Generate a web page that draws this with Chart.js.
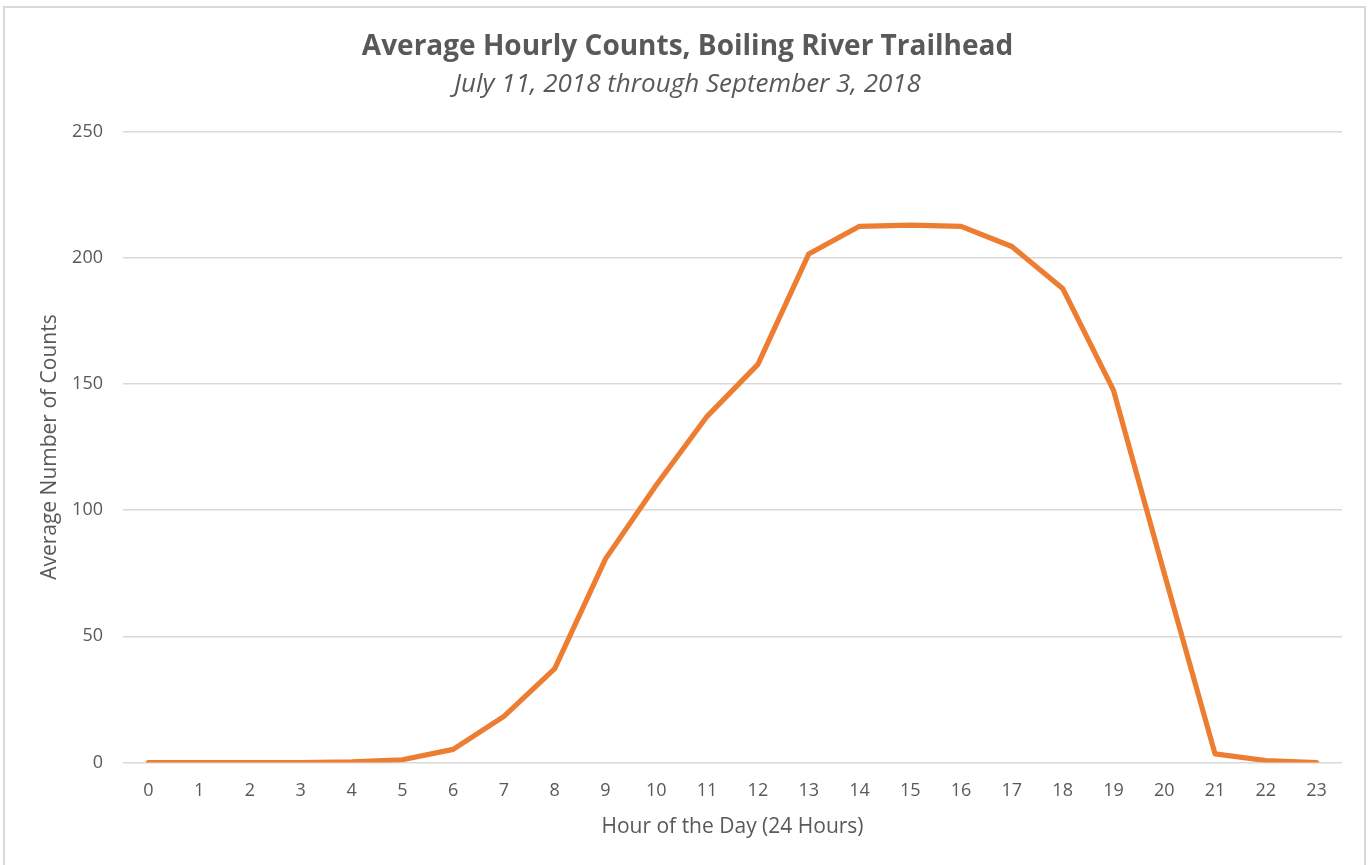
<!DOCTYPE html>
<html>
<head>
<meta charset="utf-8">
<script src="https://cdn.jsdelivr.net/npm/chart.js@4"></script>
<style>
    body { margin: 0; background: #fff; }
    #wrap { position: relative; width: 1371px; height: 865px; overflow: hidden; }
    #frame {
        position: absolute; left: 3px; top: 6px; width: 1363px; height: 900px;
        border: 2px solid #d9d9d9; box-sizing: border-box; pointer-events: none;
    }
    canvas { position: absolute; left: 0; top: 0; }
</style>
</head>
<body>
<div id="wrap">
    <div id="frame"></div>
    <canvas id="chart_hourly" width="1371" height="865"></canvas>
</div>
<script>
// hours of the day
var hour_list = ['0', '1', '2', '3', '4', '5', '6', '7', '8', '9', '10', '11',
    '12', '13', '14', '15', '16', '17', '18', '19', '20', '21', '22', '23']
// average counts per hour
var count_list = [0, 0, 0, 0, 0.3, 1.1, 5.2, 18.3, 37.2, 80.7, 110, 137.2,
    157.8, 201.5, 212.5, 213, 212.5, 204.5, 187.9, 147.6, 75, 3.4, 0.8, 0]
var y_ticks = [0, 50, 100, 150, 200, 250]

var text_color = '#595959'
var font_name = "'Open Sans', sans-serif"

Chart.defaults.font.family = font_name
Chart.defaults.color = text_color

var chart_hourly = new Chart(document.getElementById('chart_hourly'), {
    type: 'line',
    data: {
        labels: hour_list,
        datasets: [
            {
                label: 'Average Hourly Counts',
                data: count_list,
                borderColor: '#ED7D31',
                backgroundColor: '#ED7D31',
                borderWidth: 5.2,
                borderJoinStyle: 'round',
                borderCapStyle: 'round',
                pointRadius: 0,
                tension: 0
            }
        ]
    },
    options: {
        responsive: false,
        animation: false,
        layout: {
            padding: { left: 33, right: 29, top: 0, bottom: 21.5 }
        },
        plugins: {
            legend: { display: false },
            tooltip: { enabled: false },
            title: {
                display: true,
                text: 'Average Hourly Counts, Boiling River Trailhead',
                color: text_color,
                font: { size: 28, weight: 'bold' },
                padding: { top: 30.2, bottom: 0 }
            },
            subtitle: {
                display: true,
                text: 'July 11, 2018 through September 3, 2018',
                color: text_color,
                font: { size: 26, style: 'italic' },
                padding: { top: 5.6, bottom: 31.1 }
            }
        },
        scales: {
            x: {
                offset: true,
                grid: { display: false },
                border: { display: false },
                ticks: {
                    color: text_color,
                    font: { size: 18 },
                    padding: 10,
                    maxRotation: 0,
                    autoSkip: false
                },
                title: {
                    display: true,
                    text: 'Hour of the Day (24 Hours)',
                    color: text_color,
                    font: { size: 21 }
                },
                afterFit: function (scale) {
                    scale.height = 81
                }
            },
            y: {
                min: 0,
                max: 250,
                afterBuildTicks: function (scale) {
                    scale.ticks = y_ticks.map((v) => {
                        return { value: v }
                    })
                },
                grid: {
                    color: '#d9d9d9',
                    lineWidth: 1.5,
                    drawTicks: false
                },
                border: { display: false },
                ticks: {
                    color: text_color,
                    font: { size: 18 },
                    padding: 20
                },
                title: {
                    display: true,
                    text: 'Average Number of Counts',
                    color: text_color,
                    font: { size: 21 }
                },
                afterFit: function (scale) {
                    scale.width = 90
                }
            }
        }
    }
})
</script>
</body>
</html>
